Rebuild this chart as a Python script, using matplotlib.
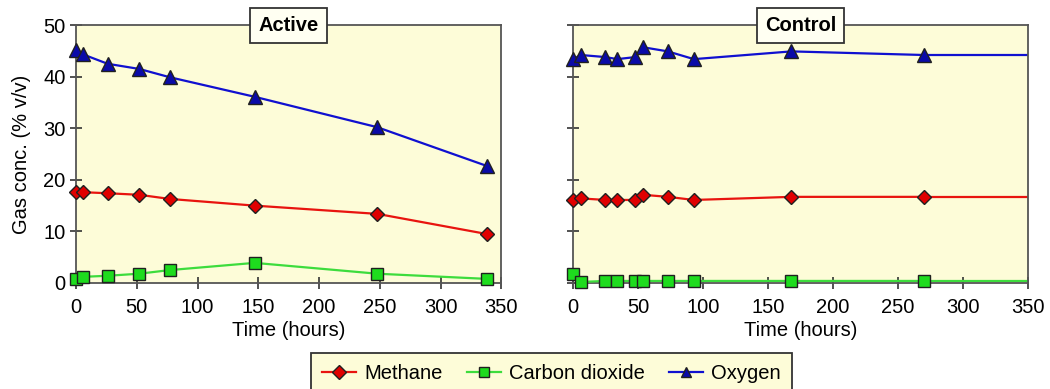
import numpy as np
import matplotlib.pyplot as plt

plt.rcParams['font.family'] = ['Liberation Sans', 'DejaVu Sans']

# Active column data (hours, % v/v)
active_time = [0, 6, 26, 52, 77, 147, 248, 338]
active_methane = [17.6, 17.6, 17.4, 17.1, 16.3, 15.0, 13.4, 9.5]
active_co2 = [0.8, 1.2, 1.4, 1.8, 2.5, 3.9, 1.8, 0.8]
active_oxygen = [45.1, 44.3, 42.5, 41.5, 39.9, 36.1, 30.2, 22.7]

# Control column data
control_time = [0, 6, 25, 34, 48, 54, 73, 93, 168, 270]
control_methane = [16.1, 16.4, 16.1, 16.1, 16.1, 17.1, 16.7, 16.1, 16.7, 16.7]
control_co2 = [1.8, 0.2, 0.4, 0.4, 0.4, 0.4, 0.4, 0.4, 0.4, 0.4]
control_oxygen = [43.4, 44.2, 43.8, 43.4, 43.8, 45.7, 44.9, 43.4, 44.9, 44.2]

series_names = ['Methane', 'Carbon dioxide', 'Oxygen']
line_colors = ['#e8140f', '#3ddc3d', '#1010d0']
marker_faces = ['#e00000', '#1edc1e', '#0a0aa8']
markers = ['D', 's', '^']
marker_sizes = [7, 8.5, 9.5]

bg = '#fdfcd8'
spine_col = '#555555'
fs = 14.5

fig = plt.figure(figsize=(10.5, 3.89), dpi=100)
ax1 = fig.add_axes([0.0724, 0.2725, 0.405, 0.663])
ax2 = fig.add_axes([0.5457, 0.2725, 0.4333, 0.663])

panels = [
    (ax1, 'Active', active_time, [active_methane, active_co2, active_oxygen], False),
    (ax2, 'Control', control_time, [control_methane, control_co2, control_oxygen], True),
]

handles = []
for ax, title, t, ys, extend in panels:
    ax.set_facecolor(bg)
    for i, y in enumerate(ys):
        h, = ax.plot(t, y, color=line_colors[i], lw=1.6, marker=markers[i],
                     ms=marker_sizes[i], mfc=marker_faces[i], mec='#202020',
                     mew=1.0, zorder=3 - i * 0.1, clip_on=False)
        if extend:
            ax.plot([t[-1], 350], [y[-1], y[-1]], color=line_colors[i], lw=1.6, zorder=2)
        if ax is ax1:
            handles.append(h)
    ax.set_xlim(0, 350)
    ax.set_ylim(0, 50)
    ax.set_xticks(np.arange(0, 351, 50))
    ax.set_yticks(np.arange(0, 51, 10))
    ax.tick_params(direction='inout', length=9, width=1.2, color='#333333',
                   labelsize=fs)
    ax.tick_params(axis='x', pad=6)
    ax.tick_params(axis='y', pad=3)
    for s in ax.spines.values():
        s.set_color(spine_col)
        s.set_linewidth(1.3)
    ax.set_xlabel('Time (hours)', fontsize=fs, labelpad=3)
    ax.text(0.5, 1.0, title, transform=ax.transAxes, ha='center', va='center',
            fontsize=fs, fontweight='bold', zorder=10,
            bbox=dict(boxstyle='square,pad=0.4', fc='#fffff2', ec='#333333', lw=1.3))

ax1.set_ylabel('Gas conc. (% v/v)', fontsize=fs, labelpad=9)
ax2.set_yticklabels([])

leg = fig.legend(handles, series_names, loc='upper center', ncol=3,
                 bbox_to_anchor=(0.525, 0.092), fontsize=fs, frameon=True,
                 fancybox=False, edgecolor='#333333', facecolor=bg,
                 handlelength=1.7, handletextpad=0.4, columnspacing=1.2,
                 borderpad=0.55, borderaxespad=0, framealpha=1)
leg.get_frame().set_linewidth(1.3)
for h in leg.legend_handles:
    h.set_markersize(7)

fig.savefig('out.png', dpi=100)
